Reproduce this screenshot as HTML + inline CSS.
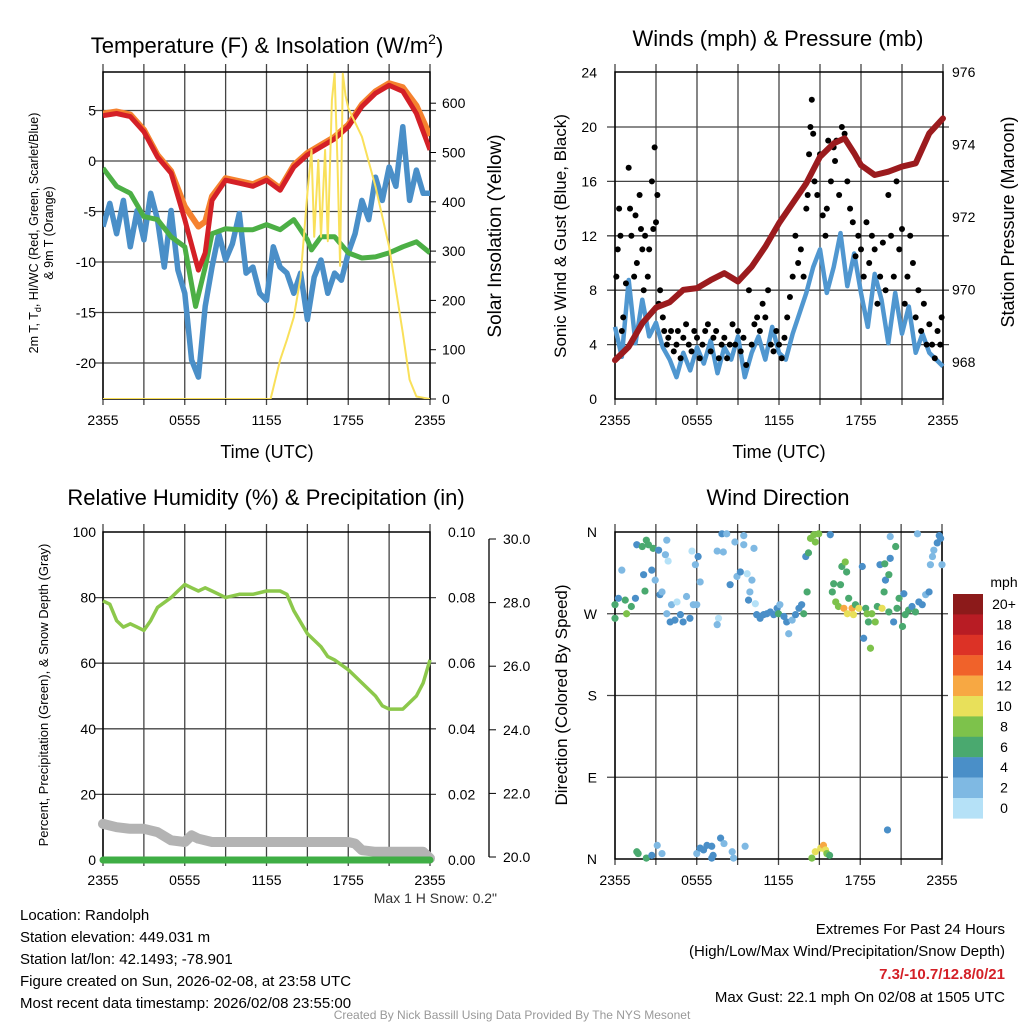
<!DOCTYPE html>
<html><head><meta charset="utf-8"><style>
body{margin:0;background:#fff;}
svg{display:block;font-family:"Liberation Sans",sans-serif;}
</style></head><body>
<svg id="s" width="1024" height="1024" viewBox="0 0 1024 1024"></svg>
<script>
// ---------- data ----------
const hoursTicks=[0,6,12,18,24];
const timeLabels=["2355","0555","1155","1755","2355"];
// Panel 1 (temperature F)
const tHours=[0,1,2,3,4,5,6,7,7.5,8,9,10,11,12,13,14,15,16,17,18,19,20,21,22,23,24];
const tempRed=[4.5,4.7,4.4,2.9,0.4,-1.2,-5.8,-10.8,-9.1,-3.9,-1.9,-2.2,-2.5,-1.9,-2.9,-0.6,0.6,1.4,2.2,3.4,5.4,6.7,7.5,6.9,4.7,1.1];
const tempOrange=[4.7,4.9,4.6,3.1,0.6,-1.0,-4.5,-6.5,-6.0,-3.5,-1.7,-2.0,-2.3,-1.7,-2.7,-0.4,0.8,1.6,2.4,3.6,5.6,6.9,7.7,7.3,5.5,2.5];
const tdHours=[0,1,2,3,4,5,6,6.8,7.5,8,9,10,11,12,13,14,15,15.3,16,17,18,19,20,21,22,23,24];
const dewGreen=[-0.7,-2.5,-3.2,-5.5,-5.8,-7.5,-8.5,-14.4,-10.5,-7.2,-6.7,-6.8,-6.8,-6.3,-6.8,-5.8,-7.8,-8.8,-7.5,-7.5,-9.1,-9.6,-9.5,-9.1,-8.5,-8.0,-9.1];
const wcBlue=[-6.5,-4.2,-7.2,-3.9,-8.5,-4.9,-7.8,-3.2,-5.8,-10.5,-4.9,-10.8,-13.1,-19.7,-21.4,-14.4,-10.5,-7.2,-9.8,-8.2,-5.2,-11.1,-10.5,-13.1,-13.8,-8.5,-10.5,-11.1,-13.1,-11.1,-15.7,-11.5,-9.8,-13.1,-11.1,-11.8,-9.1,-7.2,-3.9,-5.8,-1.6,-3.9,-0.6,-2.5,3.4,-3.9,-0.9,-3.2,-3.2];
const solarHours=[0,12.3,13,13.5,14,14.5,15,15.3,15.5,15.8,16,16.3,16.5,16.8,17,17.2,17.4,17.6,17.8,18,19,20,21,22,22.5,23,24];
const solar=[0,0,79,120,166,247,418,505,329,485,329,505,320,606,660,485,270,660,616,590,532,431,309,134,39,5,0];
// Panel 2
const windBlue=[5.3,3.1,8.75,4.1,7.3,4.6,5.6,3.8,2.9,1.6,3.4,2.1,3.8,2.6,4.3,1.9,3.8,2.9,4.6,1.6,3.4,4.6,2.9,5.3,3.4,2.9,4.8,6.3,7.8,9.7,11.0,7.8,9.7,12.2,8.3,10.7,7.8,5.3,9.2,7.3,4.1,7.8,4.8,6.8,3.4,4.8,3.4,2.9,2.4];
const presHours=[0,1,2,3,4,5,6,7,8,9,10,11,12,13,14,15,16,16.8,17.5,18,19,20,21,22,23,24];
const pressure=[968.05,968.42,969.07,969.5,969.65,969.99,970.04,970.26,970.45,970.22,970.63,971.18,971.83,972.38,972.93,973.66,974.03,974.17,973.76,973.43,973.16,973.25,973.39,973.48,974.31,974.72];
const gustHours=[0.1,0.2,0.3,0.4,0.5,0.6,0.8,1.0,1.1,1.2,1.4,1.5,1.6,1.8,1.9,2.0,2.1,2.2,2.4,2.5,2.7,2.8,2.9,3.0,3.1,3.2,3.3,3.5,3.6,3.8,3.9,4.1,4.3,4.5,4.6,4.8,5.0,5.2,5.4,5.6,5.8,6.0,6.2,6.4,6.6,6.8,7.0,7.2,7.4,7.6,7.8,8.0,8.2,8.4,8.6,8.8,9.0,9.2,9.4,9.6,9.8,10.0,10.2,10.4,10.6,10.8,11.0,11.2,11.4,11.6,11.8,12.0,12.2,12.4,12.6,12.8,13.0,13.2,13.4,13.6,13.8,14.0,14.1,14.2,14.3,14.4,14.5,14.6,14.8,15.0,15.2,15.4,15.5,15.6,15.8,16.0,16.1,16.2,16.4,16.6,16.8,17.0,17.2,17.4,17.6,17.8,18.0,18.2,18.4,18.6,18.8,19.0,19.2,19.4,19.6,19.8,20.0,20.2,20.4,20.6,20.8,21.0,21.2,21.4,21.6,21.8,22.0,22.2,22.4,22.6,22.8,23.0,23.2,23.4,23.6,23.8,23.9];
const gusts=[9,11,14,12,5,6,8.5,17,14,12,9,13.5,10,15,12.5,11,8,12,9,11,16,12.5,18.5,13,15,7,8,6,5,4,4.5,5,3.5,4,5,3,4.5,5.5,4,3.5,5,4.5,3,4,5,5.5,3.5,4.5,5,3,4,4.5,3,4,5.5,4,5,3.5,4.5,2.5,8,4,5.5,6,5,7,6,8,4,3.5,5,4,3,4.5,6,7.5,9,12,10,11,9,14,15,18,20,22,19.5,16,15,18,13.5,12,14,19,16,18.5,17.5,19,15,20,19.5,16,14,13,10.5,12,11,9,13,10,12,11,7,9,11.5,8,15,12,9,16,11,12.5,7,9,12,10,6,8,5,7,4,5.5,4,3,5,4,6];
// Panel 3
const rhHours=[0,0.5,1,1.5,2,2.5,3,3.5,4,5,5.5,6,6.5,7,7.5,8,9,10,11,12,13,13.5,14,15,16,16.5,17,18,19,20,20.5,21,22,23,23.5,24];
const rh=[79,78,73,71,72,71,70,73,77,80,82,84,83,82,83,82,80,81,81,82,82,81,76,69,65,62,61,58,54,50,47,46,46,50,54,61];
const snowHours=[0,1,2,3,4,5,6,6.5,7,8,18,18.5,19,20,23.5,24];
const snowDepth=[11,10,9.5,9.5,8.5,6,5.5,7.5,6.5,5.5,5.5,5,3,2.5,2.5,0.5];
const precipHours=[0,24];
const precip=[0,0];
// Panel 4 (aligned, 10 per row)
const dirHour=[
0,0,0.25,0.5,0.75,0.85,1.2,1.5,1.6,2.0,
2.1,2.2,2.3,2.45,2.7,2.8,2.95,3.2,3.3,3.45,
3.7,3.8,3.9,3.8,4.05,4.15,4.4,4.55,4.8,5.0,
5.25,5.5,5.65,5.75,5.9,6.0,6.1,6.25,7.6,7.5,
7.5,7.85,7.95,8.2,8.45,8.8,8.95,9.2,9.45,9.45,
9.7,9.8,9.9,10.05,10.2,10.3,10.4,10.65,10.9,11.15,
11.4,11.65,11.9,12.0,12.1,12.4,12.6,12.75,13.0,13.25,
13.5,13.7,13.85,14.0,14.1,14.2,14.35,14.6,14.7,14.95,
15.8,16.05,15.95,16.2,16.4,16.55,16.65,16.8,16.9,17.0,
17.05,17.15,17.4,17.5,17.65,17.9,18.15,18.25,18.4,18.5,
18.75,18.6,18.85,19.1,19.25,19.45,19.6,19.75,19.8,19.85,
20.1,20.1,20.2,20.45,20.6,20.7,20.85,21.1,21.2,21.3,
21.55,21.8,22.05,22.2,22.3,22.55,22.8,23.05,23.15,23.3,
23.4,23.65,23.8,23.9,24.0,20.2,1.6,1.7,2.3,2.7,
3.1,3.45,6.0,6.25,6.5,6.75,7.1,7.2,7.1,7.75,
8.0,8.6,8.7,9.55,14.45,14.7,15.1,15.3,15.45,15.55,
15.75,20.0];
const dirDeg=[
280,265,287,318,285,270,278,287,346,344,
313,295,351,346,318,342,307,340,291,294,
335,351,328,270,261,280,263,283,269,261,
289,265,339,280,324,280,333,305,265,258,
339,358,338,358,302,349,311,316,346,356,
314,285,294,307,342,281,269,265,269,270,
272,269,276,270,280,267,261,248,263,269,
276,280,270,333,294,337,353,357,349,358,
357,303,294,283,278,302,322,276,327,316,
270,287,276,269,280,276,322,243,276,270,
232,261,270,261,278,324,276,294,325,307,
313,272,331,261,344,276,287,256,292,269,
274,278,272,358,283,280,291,294,324,333,
340,348,356,353,324,355,8,6,1,4,
15,6,6,12,10,15,14,4,1,23,
17,8,1,14,1,8,12,15,10,6,
4,32];
const dirSpeed=[
7,7,5,3,7,9,7,5,5,7,
5,7,7,7,5,7,3,5,5,3,
3,3,1,3,5,3,5,1,5,5,
3,5,1,3,3,3,5,3,1,3,
3,5,3,3,5,3,3,5,3,3,
1,5,3,3,3,1,5,5,5,5,
5,5,5,7,3,5,5,3,3,5,
5,5,7,5,7,7,9,9,9,9,
5,7,7,9,9,7,7,13,9,7,
11,7,13,11,7,11,5,5,7,9,
9,7,9,9,7,5,11,7,7,5,
7,7,5,5,7,7,7,7,5,7,
7,5,7,3,5,5,3,5,3,3,
3,5,5,5,3,3,7,7,7,5,
3,3,3,5,5,5,5,5,5,5,
3,3,3,3,9,11,11,13,11,9,
7,5];
const cbLabels=["20+","18","16","14","12","10","8","6","4","2","0"];
const cbColors=["#8c1a1a","#b81c24","#dc3226","#f0622a","#f7a843","#e8e05a","#7dc24b","#4aa96f","#4a8fc8","#7fb9e3","#b5e1f7"];

// ---------- helpers ----------
const NS="http://www.w3.org/2000/svg";
const svg=document.getElementById('s');
function el(tag,attrs,parent){const e=document.createElementNS(NS,tag);for(const k in attrs)e.setAttribute(k,attrs[k]);(parent||svg).appendChild(e);return e;}
function txt(x,y,s,size,anchor,parent,extra){const t=el('text',Object.assign({x:x,y:y,'font-size':size,'text-anchor':anchor||'middle',fill:'#000'},extra||{}),parent);t.textContent=s;return t;}
function linePath(xs,ys,fx,fy){return xs.map((v,i)=>(i?'L':'M')+fx(v).toFixed(1)+','+fy(ys[i]).toFixed(1)).join('');}
function grid(g,x0,x1,y0,y1,fx,yVals,fy){
  for(let h=0;h<=24;h+=3){const gl=el('line',{x1:fx(h),x2:fx(h),y1:y0-8,y2:y1+6,stroke:'#444','stroke-width':1.3},g);
    }
  yVals.forEach(v=>{const gl=el('line',{x1:x0-8,x2:x1+6,y1:fy(v),y2:fy(v),stroke:'#444','stroke-width':1.3},g);
    });
  const b=el('rect',{x:x0,y:y0,width:x1-x0,height:y1-y0,fill:'none',stroke:'#000','stroke-width':1.5},g);
  
}
function xLabels(g,fx,y){hoursTicks.forEach((h,i)=>{const t=txt(fx(h),y,timeLabels[i],14,'middle',g);});}

// ---------- Panel 1 ----------
(function(){
 const g=el('g',{});
 const x0=103,x1=430,y0=72,y1=399;
 const fx=h=>x0+(x1-x0)*h/24, fy=T=>161-10.1*T, fs=w=>399-0.493*w;
 const clip=el('clipPath',{id:'c1'},g);el('rect',{x:x0,y:y0-6,width:x1-x0,height:y1-y0+6},clip);
 grid(g,x0,x1,y0,y1,fx,[5,0,-5,-10,-15,-20],fy);
 const d=el('g',{'clip-path':'url(#c1)'},g);
 const bh=wcBlue.map((v,i)=>i*0.5);
 const sb=el('path',{d:linePath(bh,wcBlue,fx,fy),fill:'none',stroke:'#4a8fc8','stroke-width':5.5,'stroke-linejoin':'round'},d);
 
 const sg=el('path',{d:linePath(tdHours,dewGreen,fx,fy),fill:'none',stroke:'#4caf45','stroke-width':5,'stroke-linejoin':'round'},d);
 
 const so=el('path',{d:linePath(tHours,tempOrange,fx,fy),fill:'none',stroke:'#f5822f','stroke-width':6,'stroke-linejoin':'round'},d);
 
 const sr=el('path',{d:linePath(tHours,tempRed,fx,fy),fill:'none',stroke:'#d42027','stroke-width':5,'stroke-linejoin':'round'},d);
 
 const sy=el('path',{d:linePath(solarHours,solar,fx,fs),fill:'none',stroke:'#f9e05a','stroke-width':2,'stroke-linejoin':'round'},d);
 
 [5,0,-5,-10,-15,-20].forEach(v=>{const t=txt(96,fy(v)+5,String(v),14,'end',g);});
 [0,100,200,300,400,500,600].forEach(v=>{const t=txt(442,fs(v)+5,String(v),14,'start',g);
   el('line',{x1:x1,x2:x1+6,y1:fs(v),y2:fs(v),stroke:'#000'},g);});
 xLabels(g,fx,425);
 const tt=el('text',{x:267,y:53,'font-size':22,'text-anchor':'middle'},g);tt.innerHTML='Temperature (F) &amp; Insolation (W/m<tspan dy="-9" font-size="14">2</tspan><tspan dy="9">)</tspan>';
 
 const xt=txt(267,458,'Time (UTC)',18,'middle',g);
 const yt=el('text',{x:0,y:0,'font-size':12.5,'text-anchor':'middle',transform:'translate(38,233) rotate(-90)'},g);yt.innerHTML='2m T, T<tspan dy="3" font-size="9">d</tspan><tspan dy="-3">, HI/WC (Red, Green, Scarlet/Blue)</tspan>';
 
 const yt2=txt(0,0,'& 9m T (Orange)',12.5,'middle',g,{transform:'translate(53,233) rotate(-90)'});
 const rt=txt(0,0,'Solar Insolation (Yellow)',19,'middle',g,{transform:'translate(501,236) rotate(-90)'});
})();

// ---------- Panel 2 ----------
(function(){
 const g=el('g',{});
 const x0=615,x1=943,y0=72,y1=399;
 const fx=h=>x0+(x1-x0)*h/24, fy=v=>399-13.6*v, fp=p=>362-36.25*(p-968);
 grid(g,x0,x1,y0,y1,fx,[4,8,12,16,20],fy);
 const bh=windBlue.map((v,i)=>i*0.5);
 const wb=el('path',{d:linePath(bh,windBlue,fx,fy),fill:'none',stroke:'#5097d0','stroke-width':4.5,'stroke-linejoin':'round'},g);
 
 gusts.forEach((v,i)=>{const c=el('circle',{cx:fx(gustHours[i]),cy:fy(v),r:3,fill:'#000'},g);
   });
 const pr=el('path',{d:linePath(presHours,pressure,fx,fp),fill:'none',stroke:'#9b1b1e','stroke-width':6,'stroke-linejoin':'round','stroke-linecap':'round'},g);
 
 [0,4,8,12,16,20,24].forEach(v=>{const t=txt(597,fy(v)+5,String(v),14,'end',g);});
 [968,970,972,974,976].forEach(v=>{const t=txt(952,fp(v)+5,String(v),14,'start',g);});
 xLabels(g,fx,425);
 const tt=txt(778,46,'Winds (mph) & Pressure (mb)',22,'middle',g);
 const xt=txt(779,458,'Time (UTC)',18,'middle',g);
 const yt=txt(0,0,'Sonic Wind & Gust (Blue, Black)',17,'middle',g,{transform:'translate(566,236) rotate(-90)'});
 const rt=txt(0,0,'Station Pressure (Maroon)',18,'middle',g,{transform:'translate(1014,222) rotate(-90)'});
})();

// ---------- Panel 3 ----------
(function(){
 const g=el('g',{});
 const x0=103,x1=430,y0=532,y1=860;
 const fx=h=>x0+(x1-x0)*h/24, fy=v=>860-3.28*v;
 grid(g,x0,x1,y0,y1,fx,[20,40,60,80],fy);
 const sd=el('path',{d:linePath(snowHours,snowDepth,fx,fy),fill:'none',stroke:'#b3b3b3','stroke-width':10,'stroke-linejoin':'round','stroke-linecap':'round'},g);
 
 const pp=el('path',{d:linePath(precipHours,precip,fx,v=>860-3280*v),fill:'none',stroke:'#3fae45','stroke-width':7,'stroke-linecap':'round'},g);
 
 const rl=el('path',{d:linePath(rhHours,rh,fx,fy),fill:'none',stroke:'#8cc84b','stroke-width':3.5,'stroke-linejoin':'round'},g);
 
 [0,20,40,60,80,100].forEach(v=>{const t=txt(96,fy(v)+5,String(v),14,'end',g);});
 ['0.00','0.02','0.04','0.06','0.08','0.10'].forEach((s,i)=>{const t=txt(448,fy(i*20)+5,s,14,'start',g);});
 el('line',{x1:489,x2:489,y1:539,y2:857,stroke:'#000','stroke-width':1.3},g);
 for(let i=0;i<=5;i++){const yy=857-i*63.6;el('line',{x1:489,x2:496,y1:yy,y2:yy,stroke:'#000'},g);
   const t=txt(503,yy+5,(20+2*i).toFixed(1),14,'start',g);}
 xLabels(g,fx,885);
 const tt=txt(266,505,'Relative Humidity (%) & Precipitation (in)',22,'middle',g);
 const yt=txt(0,0,'Percent, Precipitation (Green), & Snow Depth (Gray)',13,'middle',g,{transform:'translate(48,695) rotate(-90)'});
 const mx=txt(497,903,'Max 1 H Snow: 0.2"',14,'end',g,{fill:'#333'});
})();

// ---------- Panel 4 ----------
(function(){
 const g=el('g',{});
 const x0=615,x1=942,y0=532,y1=859;
 const fx=h=>x0+(x1-x0)*h/24, fy=d=>859-d*327/360;
 grid(g,x0,x1,y0,y1,fx,[90,180,270],fy);
 function col(s){const i=Math.min(10,Math.floor(s/2));return cbColors[10-i];}
 const n=Math.min(dirHour.length,dirDeg.length,dirSpeed.length);
 for(let i=0;i<n;i++){const c=el('circle',{cx:fx(dirHour[i]),cy:fy(dirDeg[i]),r:3.6,fill:col(dirSpeed[i])},g);
   }
 [['N',360],['W',270],['S',180],['E',90],['N',0]].forEach(a=>{const t=txt(597,fy(a[1])+5,a[0],14,'end',g);});
 xLabels(g,fx,885);
 const tt=txt(778,505,'Wind Direction',22,'middle',g);
 const yt=txt(0,0,'Direction (Colored By Speed)',17,'middle',g,{transform:'translate(567,695) rotate(-90)'});
 const cb=el('g',{},g);
 cbColors.forEach((c,i)=>{const r=el('rect',{x:953,y:594+i*20.4,width:30,height:20.6,fill:c},cb);
   
   const t=txt(1004,594+i*20.4+15,cbLabels[i],14,'middle',cb);});
 const mph=txt(1004,587,'mph',14,'middle',cb);
})();

// ---------- Footer text ----------
(function(){
 const g=el('g',{});
 ['Location: Randolph','Station elevation: 449.031 m','Station lat/lon: 42.1493; -78.901','Figure created on Sun, 2026-02-08, at 23:58 UTC','Most recent data timestamp: 2026/02/08 23:55:00']
 .forEach((s,i)=>{const t=txt(20,920+i*22,s,15,'start',g);});
 const r=el('g',{});
 let t=txt(1005,934,'Extremes For Past 24 Hours',15,'end',r);
 t=txt(1005,956,'(High/Low/Max Wind/Precipitation/Snow Depth)',15,'end',r);
 t=txt(1005,979,'7.3/-10.7/12.8/0/21',15,'end',r,{fill:'#d42027','font-weight':'bold'});
 t=txt(1005,1002,'Max Gust: 22.1 mph On 02/08 at 1505 UTC',15,'end',r);
 t=txt(512,1019,'Created By Nick Bassill Using Data Provided By The NYS Mesonet',12,'middle',null,{fill:'#999'});
})();
</script>
</body></html>
